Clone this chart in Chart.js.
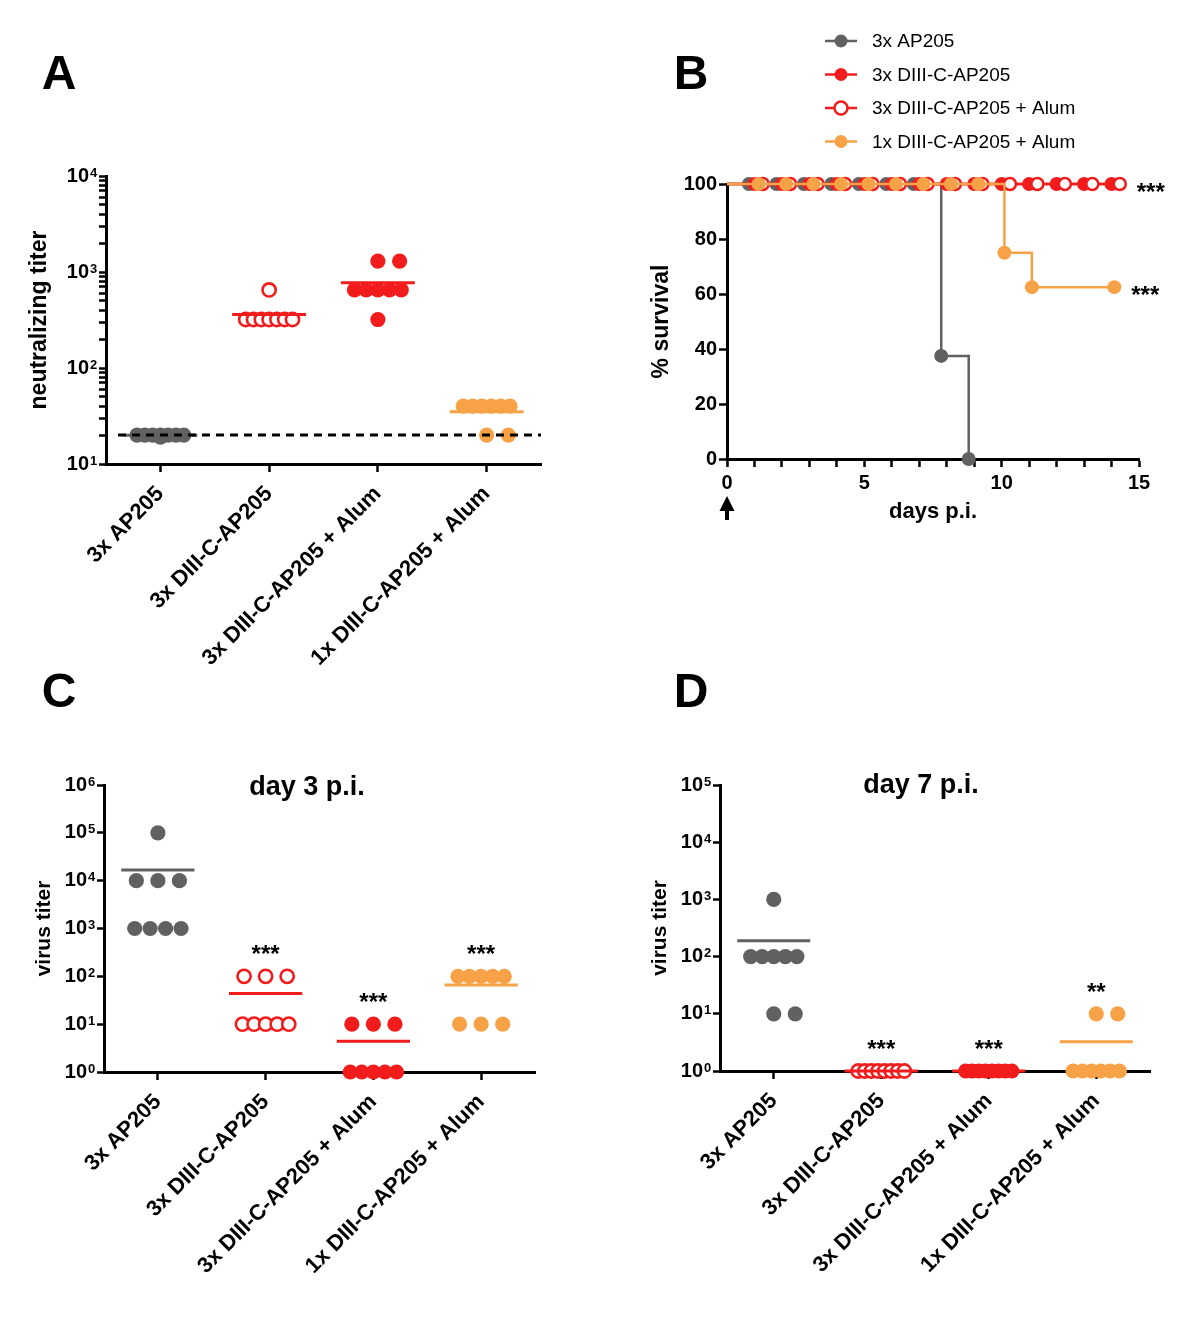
<!DOCTYPE html>
<html>
<head>
<meta charset="utf-8">
<title>Neutralizing titer, survival and virus titer</title>
<script src="https://cdn.jsdelivr.net/npm/chart.js@4.4.1/dist/chart.umd.min.js"></script>
<style>
html, body { margin: 0; padding: 0; background: #ffffff; }
#wrap { position: relative; width: 1200px; height: 1320px; }
#wrap canvas { position: absolute; left: 0; top: 0; }
</style>
</head>
<body>
<div id="wrap">
<canvas id="chartA" width="1200" height="1320"></canvas>
<canvas id="chartB" width="1200" height="1320"></canvas>
<canvas id="chartC" width="1200" height="1320"></canvas>
<canvas id="chartD" width="1200" height="1320"></canvas>
</div>
<script>
// ---------------- data ----------------
const groupLabels = ['3x AP205', '3x DIII-C-AP205', '3x DIII-C-AP205 + Alum', '1x DIII-C-AP205 + Alum'];
const survivalLabels = ['3x AP205', '3x DIII-C-AP205', '3x DIII-C-AP205 + Alum', '1x DIII-C-AP205 + Alum'];

// Panel A: neutralizing titer
const neutAP205 = [20, 20, 20, 20, 20, 20, 20, 19];
const neutDIII = [650, 320, 320, 320, 320, 320, 320, 320];
const neutDIIIAlum = [1300, 1300, 650, 650, 650, 650, 650, 320];
const neut1xAlum = [40, 40, 40, 40, 40, 40, 20, 20];
const neutDetectionLimit = 20;
const neutTicks = [10, 100, 1000, 10000];

// Panel B: survival (%), days p.i.
const survDaysAP205 = [0, 0.8, 1.8, 2.8, 3.8, 4.8, 5.8, 6.8, 7.8, 8.8];
const survAP205 = [100, 100, 100, 100, 100, 100, 100, 100, 37.5, 0];
const survDaysDIII = [0, 1, 2, 3, 4, 5, 6, 7, 8, 9, 10, 11, 12, 13, 14];
const survDIII = [100, 100, 100, 100, 100, 100, 100, 100, 100, 100, 100, 100, 100, 100, 100];
const survDaysDIIIAlum = [0, 1.3, 2.3, 3.3, 4.3, 5.3, 6.3, 7.3, 8.3, 9.3, 10.3, 11.3, 12.3, 13.3, 14.3];
const survDIIIAlum = [100, 100, 100, 100, 100, 100, 100, 100, 100, 100, 100, 100, 100, 100, 100];
const survDays1xAlum = [0, 1.15, 2.15, 3.15, 4.15, 5.15, 6.15, 7.15, 8.15, 9.15, 10.1, 11.1, 14.1];
const surv1xAlum = [100, 100, 100, 100, 100, 100, 100, 100, 100, 100, 75, 62.5, 62.5];
const survStars = ['', '', '***', '***'];
const survTicksY = [0, 20, 40, 60, 80, 100];
const dayTicks = [0, 5, 10, 15];

// Panel C: virus titer day 3 p.i.
const day3AP205 = [100000, 10000, 10000, 10000, 1000, 1000, 1000, 1000];
const day3DIII = [100, 100, 100, 10, 10, 10, 10, 10];
const day3DIIIAlum = [10, 10, 10, 1, 1, 1, 1, 1];
const day31xAlum = [100, 100, 100, 100, 100, 10, 10, 10];
const day3Stars = ['', '***', '***', '***'];
const day3Ticks = [1, 10, 100, 1000, 10000, 100000, 1000000];

// Panel D: virus titer day 7 p.i.
const day7AP205 = [1000, 100, 100, 100, 100, 100, 10, 10];
const day7DIII = [1, 1, 1, 1, 1, 1, 1, 1];
const day7DIIIAlum = [1, 1, 1, 1, 1, 1, 1, 1];
const day71xAlum = [10, 10, 1, 1, 1, 1, 1, 1];
const day7Stars = ['', '***', '***', '**'];
const day7Ticks = [1, 10, 100, 1000, 10000, 100000];

// ---------------- styles ----------------
const FONT = "'Liberation Sans', Arial, Helvetica, sans-serif";
const GRAY = '#616161', RED = '#f21c1c', ORANGE = '#f8a247';
const GROUP_COLORS = [GRAY, RED, RED, ORANGE];
const GROUP_OPEN = [false, true, false, false];
const SURV_COLORS = [GRAY, RED, RED, ORANGE];
const SURV_OPEN = [false, false, true, false];
const EXP_GAP = 10;   // room left for the exponent of "10^n" tick labels

Chart.defaults.font.family = FONT;
Chart.defaults.color = '#000';

function isPow10(v) { const l = Math.log10(v); return Math.abs(l - Math.round(l)) < 1e-9; }
function mean(a) { return a.reduce((s, v) => s + v, 0) / a.length; }
function withMinor(decades) {
  const out = [];
  decades.forEach((d, i) => {
    out.push(d);
    if (i < decades.length - 1) for (let m = 2; m <= 9; m++) out.push(d * m);
  });
  return out;
}
// horizontal spreading of equal values (scatter dot plot layout)
function spread(values, step, half) {
  const counts = {}; values.forEach(v => { counts[v] = (counts[v] || 0) + 1; });
  const seen = {};
  return values.map(v => {
    const k = counts[v];
    const i = seen[v] = (seen[v] === undefined ? 0 : seen[v] + 1);
    if (k === 1) return 0;
    if (k === 2) return i * step;
    const s = Math.min(step, 2 * half / (k - 1));
    return (i - (k - 1) / 2) * s;
  });
}

const decoPlugin = {
  id: 'deco',
  afterDraw(chart, args, o) {
    const ctx = chart.ctx;
    ctx.save();
    ctx.fillStyle = '#000';
    if (o.exponents) {
      const ys = chart.scales.y;
      const tl = ys.options.grid.tickLength;
      ctx.font = 'bold 13px ' + FONT;
      ctx.textAlign = 'left'; ctx.textBaseline = 'alphabetic';
      ys.ticks.forEach(t => {
        if (!isPow10(t.value)) return;
        const py = ys.getPixelForValue(t.value);
        ctx.fillText(String(Math.round(Math.log10(t.value))), chart.chartArea.left - tl - EXP_GAP + 1, py + 0.5);
      });
    }
    if (o.letter) {
      ctx.font = 'bold 48px ' + FONT;
      ctx.textAlign = 'center'; ctx.textBaseline = 'middle';
      ctx.fillText(o.letter.text, o.letter.x, o.letter.y);
    }
    if (o.title) {
      ctx.font = 'bold 27px ' + FONT;
      ctx.textAlign = 'center'; ctx.textBaseline = 'alphabetic';
      ctx.fillText(o.title.text, o.title.x, o.title.y);
    }
    if (o.stars) {
      const xs = chart.scales.x, ys = chart.scales.y;
      ctx.font = 'bold 24px ' + FONT;
      ctx.textAlign = 'center'; ctx.textBaseline = 'alphabetic';
      o.stars.labels.forEach((s, i) => {
        if (!s) return;
        const top = ys.getPixelForValue(Math.max(...o.stars.series[i]));
        ctx.fillText(s, xs.getPixelForValue(i), top - 14);
      });
    }
    if (o.survStars) {
      const xs = chart.scales.x, ys = chart.scales.y;
      ctx.font = 'bold 24px ' + FONT;
      ctx.textAlign = 'left'; ctx.textBaseline = 'alphabetic';
      chart.data.datasets.forEach((ds, i) => {
        const s = o.survStars[i];
        if (!s) return;
        const last = ds.data[ds.data.length - 1];
        ctx.fillText(s, xs.getPixelForValue(last.x) + 17, ys.getPixelForValue(last.y) + 16);
      });
    }
    if (o.arrow) {
      const ax = chart.scales.x.getPixelForValue(o.arrow.at);
      ctx.strokeStyle = '#000'; ctx.lineWidth = 4;
      ctx.beginPath(); ctx.moveTo(ax, 520); ctx.lineTo(ax, 506); ctx.stroke();
      ctx.beginPath(); ctx.moveTo(ax, 496); ctx.lineTo(ax - 7.5, 511); ctx.lineTo(ax + 7.5, 511); ctx.closePath(); ctx.fill();
    }
    if (o.legend) {
      chart.data.datasets.forEach((ds, i) => {
        const y = o.legend.y + i * o.legend.gap;
        const x0 = o.legend.x;
        ctx.strokeStyle = ds.borderColor; ctx.lineWidth = 2.5;
        ctx.beginPath(); ctx.moveTo(x0, y); ctx.lineTo(x0 + 32, y); ctx.stroke();
        ctx.beginPath(); ctx.arc(x0 + 16, y, 6.5, 0, Math.PI * 2);
        ctx.fillStyle = ds.pointBackgroundColor; ctx.fill();
        if (ds.pointBorderWidth > 0) { ctx.lineWidth = 2.5; ctx.stroke(); }
        ctx.fillStyle = '#000';
        ctx.font = '19px ' + FONT;
        ctx.textAlign = 'left'; ctx.textBaseline = 'middle';
        ctx.fillText(ds.label, x0 + 47, y + 1);
      });
    }
    ctx.restore();
  }
};
Chart.register(decoPlugin);

const tickGrid = (len) => ({ display: true, drawOnChartArea: false, drawTicks: true, tickLength: len, tickWidth: 2.5, tickColor: '#000' });
const axisBorder = { display: true, color: '#000', width: 3 };

function groupChart(id, o) {
  const datasets = [];
  if (o.limit !== undefined) {
    datasets.push({
      label: 'detection limit',
      data: [{ x: -0.39, y: o.limit }, { x: 3.5, y: o.limit }],
      showLine: true, borderColor: '#000', borderWidth: 3, borderDash: [8, 6],
      pointRadius: 0, clip: false, order: 0
    });
  }
  o.series.forEach((vals, g) => {
    const m = mean(vals);
    datasets.push({
      label: groupLabels[g] + ' mean',
      data: [{ x: g - 0.34, y: m }, { x: g + 0.34, y: m }],
      showLine: true, borderColor: GROUP_COLORS[g], borderWidth: 3,
      pointRadius: 0, clip: false, order: 1
    });
    const off = spread(vals, 0.2, 0.215);
    datasets.push({
      label: groupLabels[g],
      data: vals.map((v, i) => ({ x: g + off[i], y: v })),
      showLine: false,
      pointRadius: GROUP_OPEN[g] ? 6.6 : 7.6,
      pointBackgroundColor: GROUP_OPEN[g] ? '#ffffff' : GROUP_COLORS[g],
      pointBorderColor: GROUP_COLORS[g],
      pointBorderWidth: GROUP_OPEN[g] ? 2.6 : 0,
      clip: false, order: 2
    });
  });
  const a = o.area;
  return new Chart(document.getElementById(id), {
    type: 'scatter',
    data: { datasets },
    options: {
      responsive: false, animation: false, events: [], devicePixelRatio: 1,
      layout: { padding: { left: a.l - o.yWidth, top: a.t, right: 1200 - a.r, bottom: 1320 - a.b - 215 } },
      plugins: {
        legend: { display: false }, tooltip: { enabled: false },
        deco: { letter: o.letter, title: o.title, stars: o.stars, exponents: true }
      },
      scales: {
        x: {
          type: 'linear', min: -0.5, max: 3.5,
          afterBuildTicks: s => { s.ticks = groupLabels.map((_, i) => ({ value: i })); },
          afterFit: s => { s.height = 215; },
          ticks: {
            callback: v => groupLabels[v], autoSkip: false, minRotation: 45, maxRotation: 45,
            padding: 9, font: { size: 22, weight: 'bold' }, color: '#000'
          },
          grid: tickGrid(8), border: axisBorder
        },
        y: {
          type: 'logarithmic', min: o.yMin, max: o.yMax,
          afterBuildTicks: s => { s.ticks = o.yTicks.map(v => ({ value: v })); },
          afterFit: s => { s.width = o.yWidth; },
          ticks: { callback: v => (isPow10(v) ? '10' : ''), autoSkip: false, padding: EXP_GAP, font: { size: 20, weight: 'bold' }, color: '#000' },
          grid: tickGrid(7), border: axisBorder,
          title: { display: true, text: o.yTitle, color: '#000', font: { size: o.yTitleSize, weight: 'bold' }, padding: { top: 4, bottom: 0 } }
        }
      }
    }
  });
}

// Panel A
groupChart('chartA', {
  series: [neutAP205, neutDIII, neutDIIIAlum, neut1xAlum],
  limit: neutDetectionLimit,
  yMin: 10, yMax: 10000, yTicks: withMinor(neutTicks),
  area: { l: 106, r: 541, t: 176, b: 464 }, yWidth: 84,
  yTitle: 'neutralizing titer', yTitleSize: 23,
  letter: { text: 'A', x: 59, y: 76 }
});

// Panel C
groupChart('chartC', {
  series: [day3AP205, day3DIII, day3DIIIAlum, day31xAlum],
  yMin: 1, yMax: 1000000, yTicks: day3Ticks,
  area: { l: 104, r: 535, t: 785, b: 1072 }, yWidth: 76,
  yTitle: 'virus titer', yTitleSize: 21,
  letter: { text: 'C', x: 59, y: 694 },
  title: { text: 'day 3 p.i.', x: 307, y: 795 },
  stars: { labels: day3Stars, series: [day3AP205, day3DIII, day3DIIIAlum, day31xAlum] }
});

// Panel D
groupChart('chartD', {
  series: [day7AP205, day7DIII, day7DIIIAlum, day71xAlum],
  yMin: 1, yMax: 100000, yTicks: day7Ticks,
  area: { l: 720, r: 1150, t: 785, b: 1071 }, yWidth: 76,
  yTitle: 'virus titer', yTitleSize: 21,
  letter: { text: 'D', x: 691, y: 694 },
  title: { text: 'day 7 p.i.', x: 921, y: 793 },
  stars: { labels: day7Stars, series: [day7AP205, day7DIII, day7DIIIAlum, day71xAlum] }
});

// Panel B
(function () {
  const days = [survDaysAP205, survDaysDIII, survDaysDIIIAlum, survDays1xAlum];
  const vals = [survAP205, survDIII, survDIIIAlum, surv1xAlum];
  const orders = [3, 2, 1, 0];
  const datasets = survivalLabels.map((lab, i) => ({
    label: lab,
    data: days[i].map((d, j) => ({ x: d, y: vals[i][j] })),
    showLine: true, stepped: true,
    borderColor: SURV_COLORS[i], borderWidth: 2.5,
    pointRadius: ctx => (ctx.raw && ctx.raw.x === 0 ? 0 : (SURV_OPEN[i] ? 6 : 7)),
    pointBackgroundColor: SURV_OPEN[i] ? '#ffffff' : SURV_COLORS[i],
    pointBorderColor: SURV_COLORS[i],
    pointBorderWidth: SURV_OPEN[i] ? 2.5 : 0,
    clip: false, order: orders[i]
  }));
  const a = { l: 727, r: 1139, t: 184, b: 459 };
  new Chart(document.getElementById('chartB'), {
    type: 'scatter',
    data: { datasets },
    options: {
      responsive: false, animation: false, events: [], devicePixelRatio: 1,
      layout: { padding: { left: a.l - 83, top: a.t, right: 1200 - a.r, bottom: 1320 - a.b - 72 } },
      plugins: {
        legend: { display: false }, tooltip: { enabled: false },
        deco: {
          letter: { text: 'B', x: 691, y: 76 },
          survStars: survStars,
          arrow: { at: 0 },
          legend: { x: 825, y: 41, gap: 33.5 }
        }
      },
      scales: {
        x: {
          type: 'linear', min: 0, max: 15,
          afterBuildTicks: s => { s.ticks = Array.from({ length: 16 }, (_, i) => ({ value: i })); },
          afterFit: s => { s.height = 72; },
          ticks: { callback: v => (dayTicks.includes(v) ? String(v) : ''), autoSkip: false, maxRotation: 0, padding: 4, font: { size: 20, weight: 'bold' }, color: '#000' },
          grid: tickGrid(8), border: axisBorder,
          title: { display: true, text: 'days p.i.', color: '#000', font: { size: 22, weight: 'bold' }, padding: { top: 0, bottom: 6 } }
        },
        y: {
          type: 'linear', min: 0, max: 100,
          afterBuildTicks: s => { s.ticks = survTicksY.map(v => ({ value: v })); },
          afterFit: s => { s.width = 83; },
          ticks: { autoSkip: false, padding: 2, font: { size: 20, weight: 'bold' }, color: '#000' },
          grid: tickGrid(8), border: axisBorder,
          title: { display: true, text: '% survival', color: '#000', font: { size: 23, weight: 'bold' }, padding: { top: 4, bottom: 0 } }
        }
      }
    }
  });
})();
</script>
</body>
</html>
